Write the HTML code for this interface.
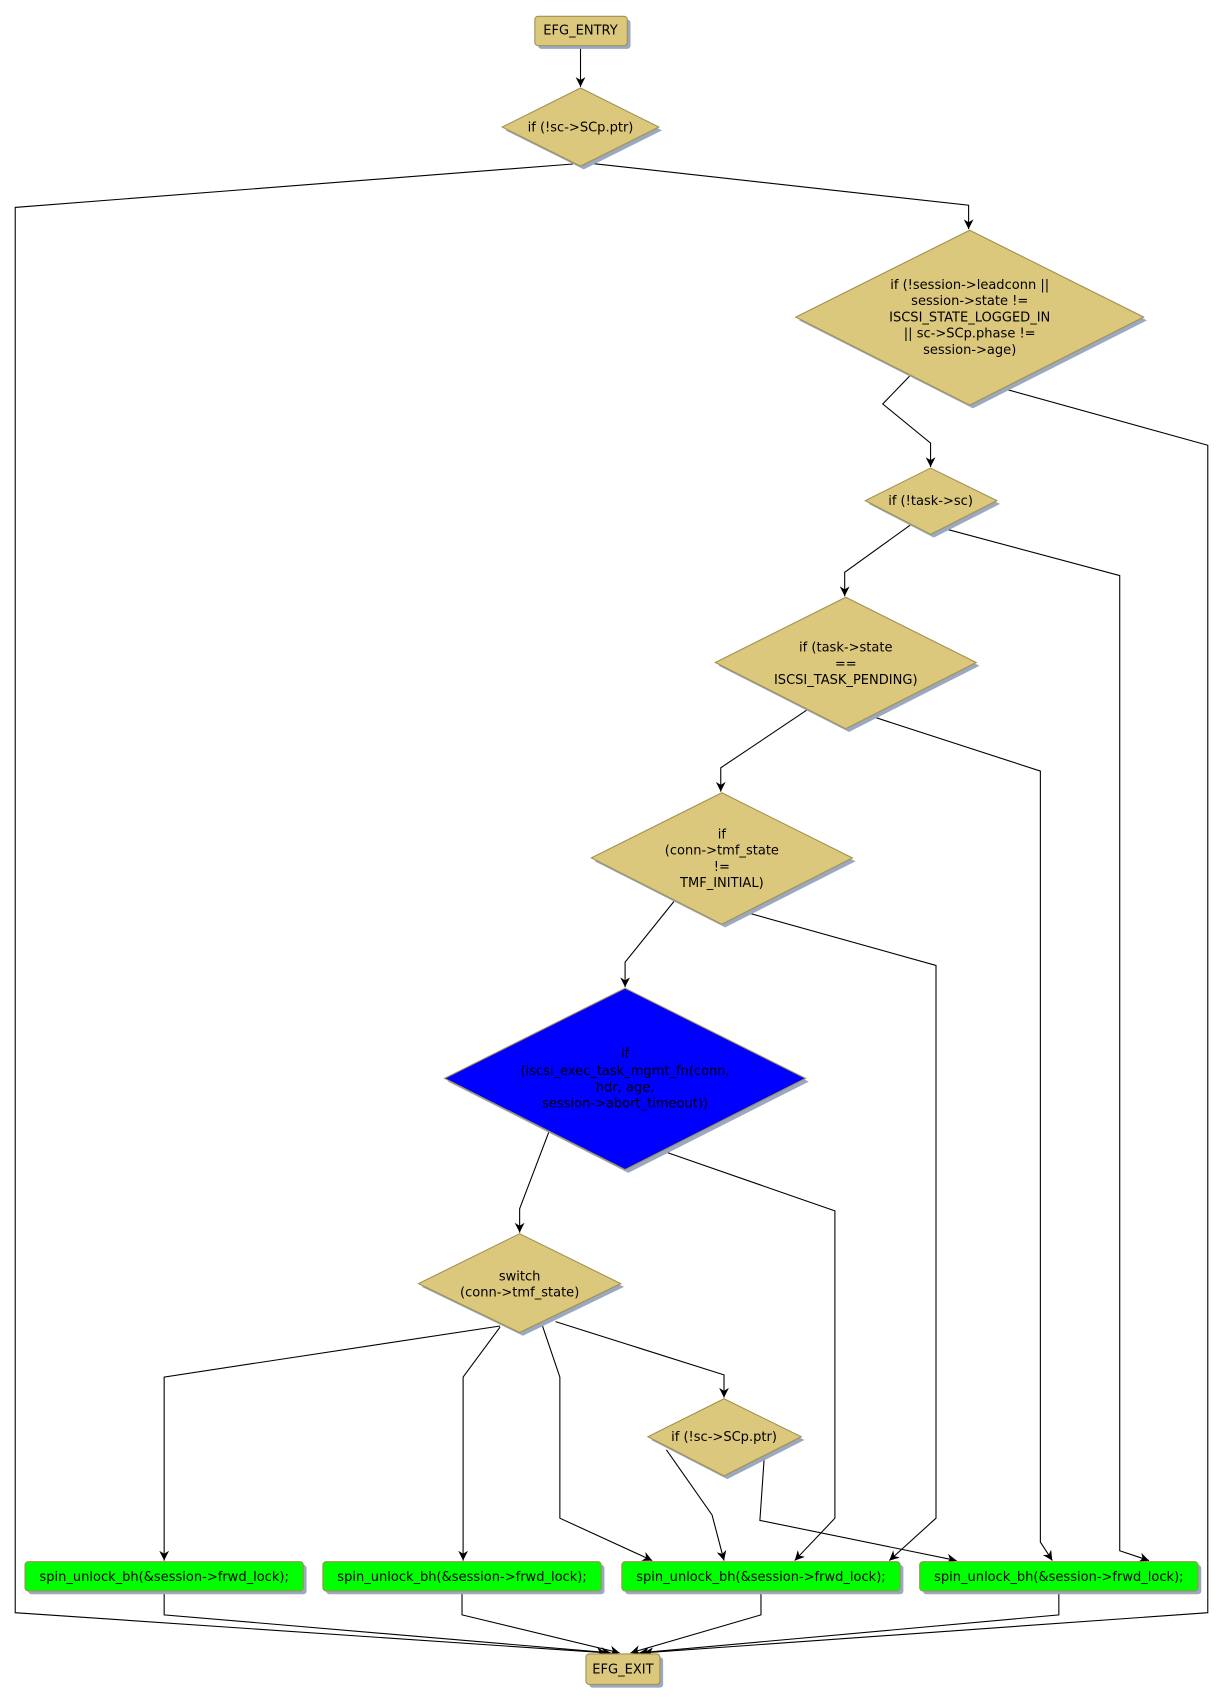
<!DOCTYPE html>
<html><head><meta charset="utf-8"><style>
html,body{margin:0;padding:0;background:#fff;}
svg{display:block;}
text{font-family:"DejaVu Sans","Liberation Sans",sans-serif;font-size:12px;fill:#000;text-anchor:middle;}
</style></head><body>
<svg width="1223" height="1705" viewBox="0 0 1125 1570" preserveAspectRatio="none" xmlns="http://www.w3.org/2000/svg">
<defs>
<marker id="a" viewBox="0 0 10 10" refX="10" refY="5" markerWidth="9" markerHeight="9" orient="auto" markerUnits="userSpaceOnUse"><path d="M0,0 L10,5 L0,10 L3,5 z" fill="#000"/></marker>
</defs>
<g fill="none" stroke="#000" stroke-width="1">
<polyline points="534,42 534,80" marker-end="url(#a)"/>
<polyline points="527,151 14,191 14,1485 558,1522" marker-end="url(#a)"/>
<polyline points="540,150 891,189 891,211" marker-end="url(#a)"/>
<polyline points="838,345 812,372 856,408 856,430" marker-end="url(#a)"/>
<polyline points="920,357 1111,410 1111,1485 592,1522" marker-end="url(#a)"/>
<polyline points="838,483 777,527 777,549" marker-end="url(#a)"/>
<polyline points="866,486 1030,530 1030,1428 1057,1437" marker-end="url(#a)"/>
<polyline points="742,654 663,707 663,729" marker-end="url(#a)"/>
<polyline points="800,659 957,710 957,1420 968,1437" marker-end="url(#a)"/>
<polyline points="620,830 575,886 575,909" marker-end="url(#a)"/>
<polyline points="686,840 861,889 861,1398 818,1437" marker-end="url(#a)"/>
<polyline points="505,1042 478,1113 478,1135" marker-end="url(#a)"/>
<polyline points="610,1060 768,1115 768,1398 731,1437" marker-end="url(#a)"/>
<polyline points="460,1221 151,1268 151,1437" marker-end="url(#a)"/>
<polyline points="460,1222 426,1268 426,1437" marker-end="url(#a)"/>
<polyline points="498,1218 515,1268 515,1398 600,1437" marker-end="url(#a)"/>
<polyline points="511,1217 666,1266 666,1287" marker-end="url(#a)"/>
<polyline points="613,1335 655,1395 666,1437" marker-end="url(#a)"/>
<polyline points="703,1342 699,1400 880,1437" marker-end="url(#a)"/>
<polyline points="151,1465 151,1487 562,1522" marker-end="url(#a)"/>
<polyline points="425,1465 425,1487 570,1522" marker-end="url(#a)"/>
<polyline points="700,1465 700,1487 580,1522" marker-end="url(#a)"/>
<polyline points="974,1465 974,1487 588,1522" marker-end="url(#a)"/>
</g>
<g fill="#9aa8c0">
<rect x="495" y="18" width="85" height="27" rx="3"/>
<polygon points="537,84 609,120 537,156 465,120"/>
<polygon points="895,215 1055,295 895,376 735,295"/>
<polygon points="859,434 920,464 859,495 799,464"/>
<polygon points="781,553 901,613 781,674 661,613"/>
<polygon points="667,733 787,793 667,854 547,793"/>
<polygon points="578,913 744,996 578,1080 412,996"/>
<polygon points="481,1139 574,1185 481,1230 388,1185"/>
<polygon points="669,1291 740,1326 669,1362 599,1326"/>
<rect x="26" y="1441" width="256" height="27" rx="3"/>
<rect x="300" y="1441" width="256" height="27" rx="3"/>
<rect x="575" y="1441" width="256" height="27" rx="3"/>
<rect x="849" y="1441" width="256" height="27" rx="3"/>
<rect x="542" y="1526" width="68" height="28" rx="3"/>
</g>
<g fill="#dcc87c" stroke="#a09050" stroke-width="1">
<rect x="492" y="15" width="85" height="27" rx="3"/>
<polygon points="534,81 606,117 534,153 462,117"/>
<polygon points="892,212 1052,292 892,373 732,292"/>
<polygon points="856,431 917,461 856,492 796,461"/>
<polygon points="778,550 898,610 778,671 658,610"/>
<polygon points="664,730 784,790 664,851 544,790"/>
<polygon points="575,910 741,993 575,1077 409,993" fill="#0000ff"/>
<polygon points="478,1136 571,1182 478,1227 385,1182"/>
<polygon points="666,1288 737,1323 666,1359 596,1323"/>
<rect x="539" y="1523" width="68" height="28" rx="3"/>
</g>
<g fill="#00ff00" stroke="#a09050" stroke-width="1">
<rect x="23" y="1438" width="256" height="27" rx="3"/>
<rect x="297" y="1438" width="256" height="27" rx="3"/>
<rect x="572" y="1438" width="256" height="27" rx="3"/>
<rect x="846" y="1438" width="256" height="27" rx="3"/>
</g>
<text x="534" y="32">EFG_ENTRY</text>
<text x="534" y="121">if (!sc-&gt;SCp.ptr)</text>
<text x="892" y="266">if (!session-&gt;leadconn ||</text>
<text x="892" y="281">session-&gt;state !=</text>
<text x="892" y="296">ISCSI_STATE_LOGGED_IN</text>
<text x="892" y="311">|| sc-&gt;SCp.phase !=</text>
<text x="892" y="326">session-&gt;age)</text>
<text x="856" y="465">if (!task-&gt;sc)</text>
<text x="778" y="600">if (task-&gt;state</text>
<text x="778" y="615">==</text>
<text x="778" y="630">ISCSI_TASK_PENDING)</text>
<text x="664" y="772">if</text>
<text x="664" y="787">(conn-&gt;tmf_state</text>
<text x="664" y="802">!=</text>
<text x="664" y="817">TMF_INITIAL)</text>
<text x="575" y="974">if</text>
<text x="575" y="990">(iscsi_exec_task_mgmt_fn(conn,</text>
<text x="575" y="1005">hdr, age,</text>
<text x="575" y="1020">session-&gt;abort_timeout))</text>
<text x="478" y="1179">switch</text>
<text x="478" y="1194">(conn-&gt;tmf_state)</text>
<text x="666" y="1327">if (!sc-&gt;SCp.ptr)</text>
<text x="151" y="1456">spin_unlock_bh(&amp;session-&gt;frwd_lock);</text>
<text x="425" y="1456">spin_unlock_bh(&amp;session-&gt;frwd_lock);</text>
<text x="700" y="1456">spin_unlock_bh(&amp;session-&gt;frwd_lock);</text>
<text x="974" y="1456">spin_unlock_bh(&amp;session-&gt;frwd_lock);</text>
<text x="573" y="1541">EFG_EXIT</text>
</svg>
</body></html>
